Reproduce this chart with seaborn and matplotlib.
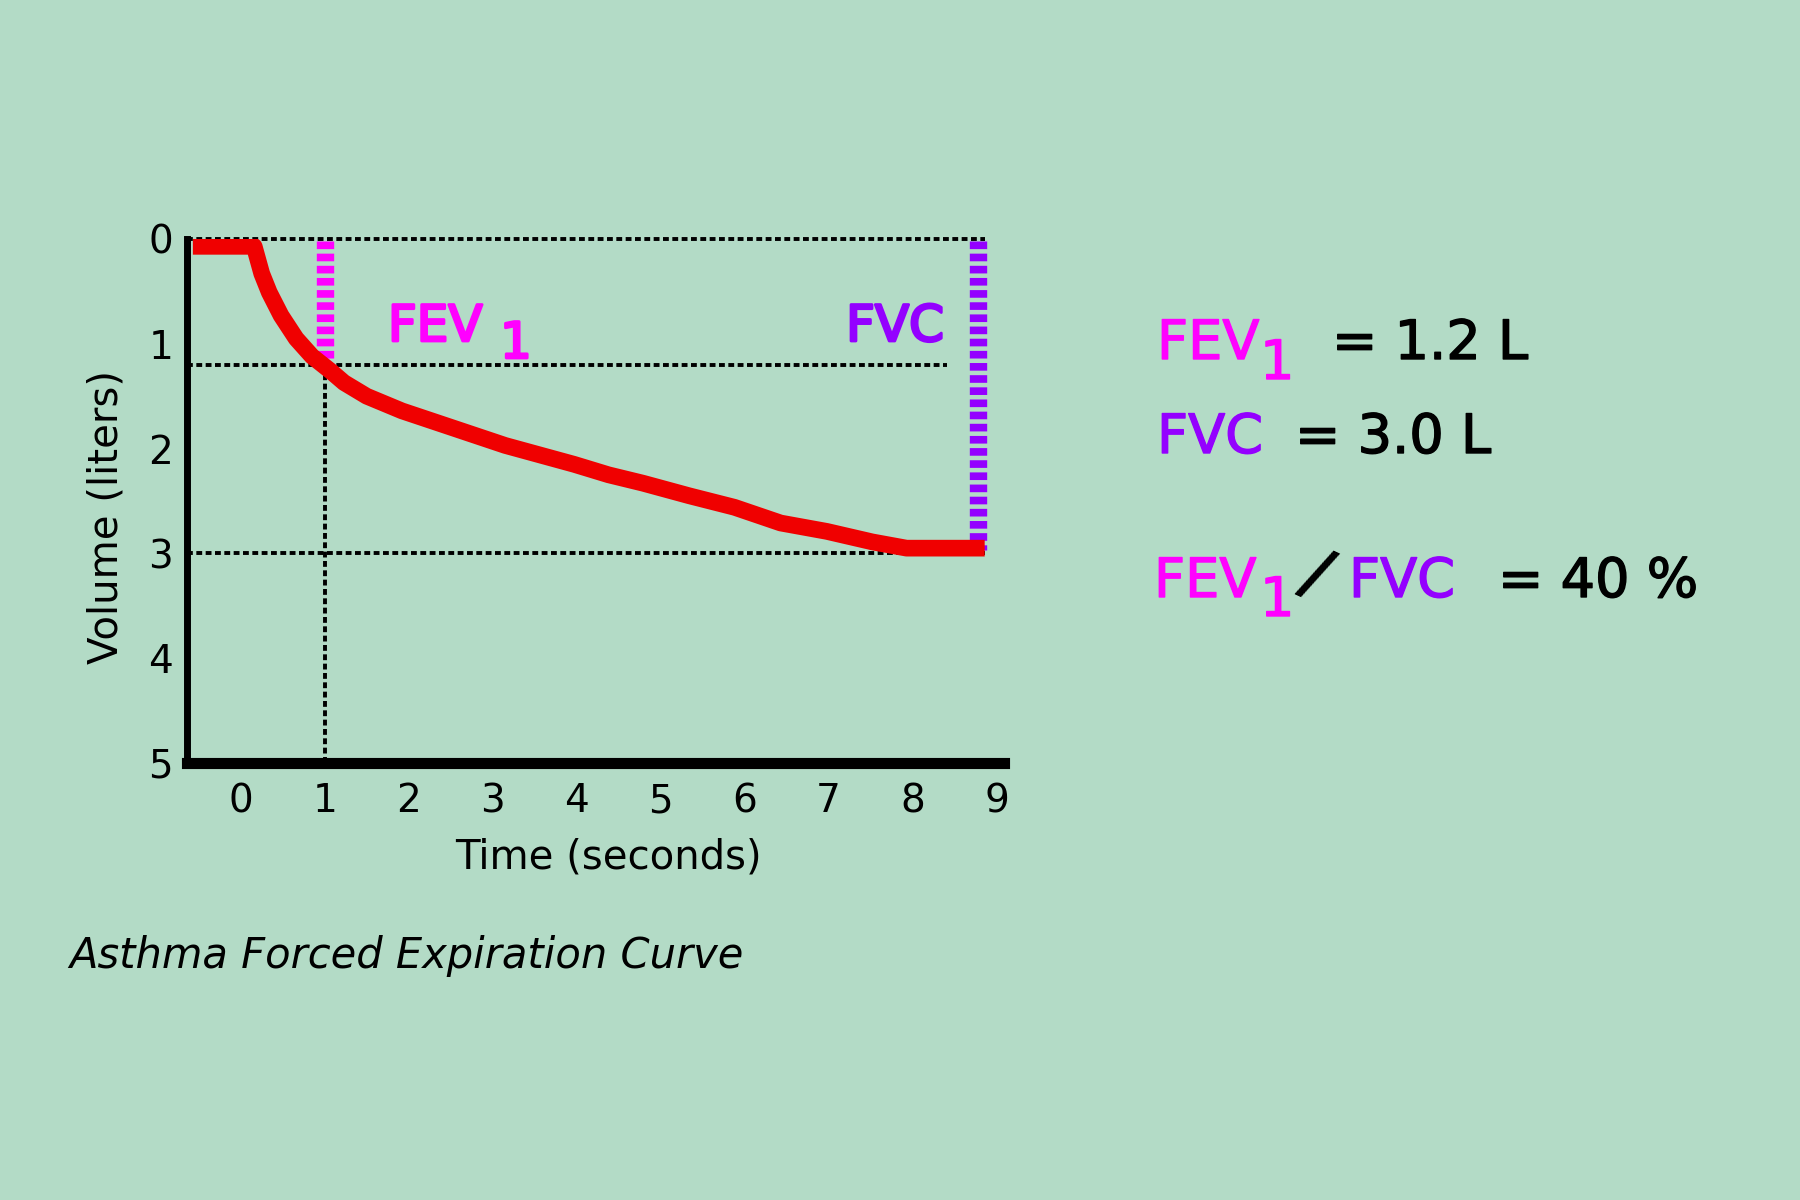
import matplotlib
matplotlib.use("Agg")
import matplotlib.pyplot as plt
import matplotlib.patheffects as pe
import seaborn as sns
import pandas as pd

# ---------------- data ----------------
time_s = [-0.57, 0.16, 0.25, 0.34, 0.48, 0.66, 0.85, 1.07, 1.23, 1.50, 1.92,
          2.33, 2.74, 3.15, 3.56, 3.97, 4.38, 4.79, 5.34, 5.88, 6.43, 6.98,
          7.52, 7.93, 8.21, 8.86]
volume_l = [0.07, 0.07, 0.33, 0.51, 0.73, 0.95, 1.12, 1.26, 1.37, 1.50, 1.64,
            1.75, 1.86, 1.97, 2.06, 2.15, 2.25, 2.33, 2.45, 2.56, 2.71, 2.79,
            2.89, 2.95, 2.95, 2.95]
x_ticks = [0, 1, 2, 3, 4, 5, 6, 7, 8, 9]
y_ticks = [0, 1, 2, 3, 4, 5]
fev1_l = 1.2
fvc_l = 3.0
fev1_time = 1.0
fvc_time = 8.78
ratio_pct = 40

# ---------------- style ----------------
BG = "#b3dbc6"
RED = "#f00000"
MAGENTA = "#ff00ff"
PURPLE = "#9400ff"

sns.set_style("white")
plt.rcParams["font.family"] = ["DejaVu Sans"]
plt.rcParams["text.color"] = "black"

W, H = 1800, 1200
fig = plt.figure(figsize=(18, 12), dpi=100, facecolor=BG)


def fp(x, y):
    return x / W, 1 - y / H


left, right, top, bottom = 187, 1004, 239, 763
ax = fig.add_axes([left / W, 1 - bottom / H, (right - left) / W, (bottom - top) / H])
ax.set_facecolor(BG)
ax.set_xlim(-0.64, 9.09)
ax.set_ylim(5, 0)

df = pd.DataFrame({"time": time_s, "volume": volume_l})

dot = (0, (1.5, 0.9))
dlw = 2.8
ax.hlines(0, -0.64, 8.86, colors="black", lw=dlw, linestyles=[dot], zorder=1,
          clip_on=False)
ax.hlines(fev1_l, -0.64, 8.41, colors="black", lw=dlw, linestyles=[dot], zorder=1)
ax.hlines(fvc_l, -0.64, 8.86, colors="black", lw=dlw, linestyles=[dot], zorder=1)
ax.vlines(fev1_time, fev1_l, 5, colors="black", lw=dlw, linestyles=[dot], zorder=1)

dash = (0, (0.44, 0.26))
ax.vlines(fev1_time, 0.02, fev1_l, colors=MAGENTA, lw=12.5,
          linestyles=[dash], zorder=2)
ax.vlines(fvc_time, 0.02, fvc_l - 0.03, colors=PURPLE, lw=12.5,
          linestyles=[dash], zorder=2)

sns.lineplot(data=df, x="time", y="volume", color=RED, lw=12, ax=ax,
             sort=False, estimator=None, zorder=3,
             solid_capstyle="butt", solid_joinstyle="round")

ax.set_xticks(x_ticks)
ax.set_xticklabels([str(t) for t in x_ticks])
ax.set_yticks(y_ticks)
ax.set_yticklabels([str(t) for t in y_ticks])
ax.tick_params(axis="both", length=0, labelsize=28, colors="black",
               labelcolor="black")
ax.tick_params(axis="x", pad=14)
ax.tick_params(axis="y", pad=10)
ax.set_xlabel("")
ax.set_ylabel("")
for s in ["top", "right"]:
    ax.spines[s].set_visible(False)
ax.spines["left"].set_linewidth(5)
ax.spines["bottom"].set_linewidth(8)
ax.spines["left"].set_color("black")
ax.spines["bottom"].set_color("black")
ax.grid(False)

# axis labels
fig.text(*fp(608, 858), "Time (seconds)", fontsize=29, ha="center", va="center",
         color="black")
fig.text(*fp(107, 517), "Volume (liters)", fontsize=29, ha="center", va="center",
         rotation=90, color="black")


def thick(c, w=2):
    return [pe.withStroke(linewidth=w, foreground=c)]


# in-plot labels
fig.text(*fp(388, 341), "FEV", color=MAGENTA, fontsize=36, ha="left",
         va="baseline", path_effects=thick(MAGENTA))
fig.text(*fp(500, 358), "1", color=MAGENTA, fontsize=36, ha="left",
         va="baseline", path_effects=thick(MAGENTA))
fig.text(*fp(944, 341), "FVC", color=PURPLE, fontsize=36, ha="right",
         va="baseline", path_effects=thick(PURPLE))

# right-hand summary
fs = 39
sw = 1.0
fig.text(*fp(1157, 359), "FEV", color=MAGENTA, fontsize=fs, va="baseline",
         path_effects=thick(MAGENTA, sw))
fig.text(*fp(1260, 379), "1", color=MAGENTA, fontsize=fs, va="baseline",
         path_effects=thick(MAGENTA, sw))
fig.text(*fp(1332, 359), f"= {fev1_l:.1f} L", color="black", fontsize=fs,
         va="baseline", path_effects=thick("black", sw))

fig.text(*fp(1157, 453), "FVC", color=PURPLE, fontsize=fs, va="baseline",
         path_effects=thick(PURPLE, sw))
fig.text(*fp(1295, 453), f"= {fvc_l:.1f} L", color="black", fontsize=fs,
         va="baseline", path_effects=thick("black", sw))

fig.text(*fp(1154, 597), "FEV", color=MAGENTA, fontsize=fs, va="baseline",
         path_effects=thick(MAGENTA, sw))
fig.text(*fp(1260, 616), "1", color=MAGENTA, fontsize=fs, va="baseline",
         path_effects=thick(MAGENTA, sw))
fig.text(*fp(1316, 576), "/", color="black", fontsize=48, fontweight="bold",
         ha="center", va="center", rotation=-25, rotation_mode="anchor")
fig.text(*fp(1349, 597), "FVC", color=PURPLE, fontsize=fs, va="baseline",
         path_effects=thick(PURPLE, sw))
fig.text(*fp(1498, 597), f"= {ratio_pct} %", color="black", fontsize=fs,
         va="baseline", path_effects=thick("black", sw))

# caption
fig.text(*fp(69, 968), "Asthma Forced Expiration Curve", fontsize=30,
         style="italic", va="baseline", ha="left", color="black")

fig.savefig("out.png", dpi=100, facecolor=BG)
